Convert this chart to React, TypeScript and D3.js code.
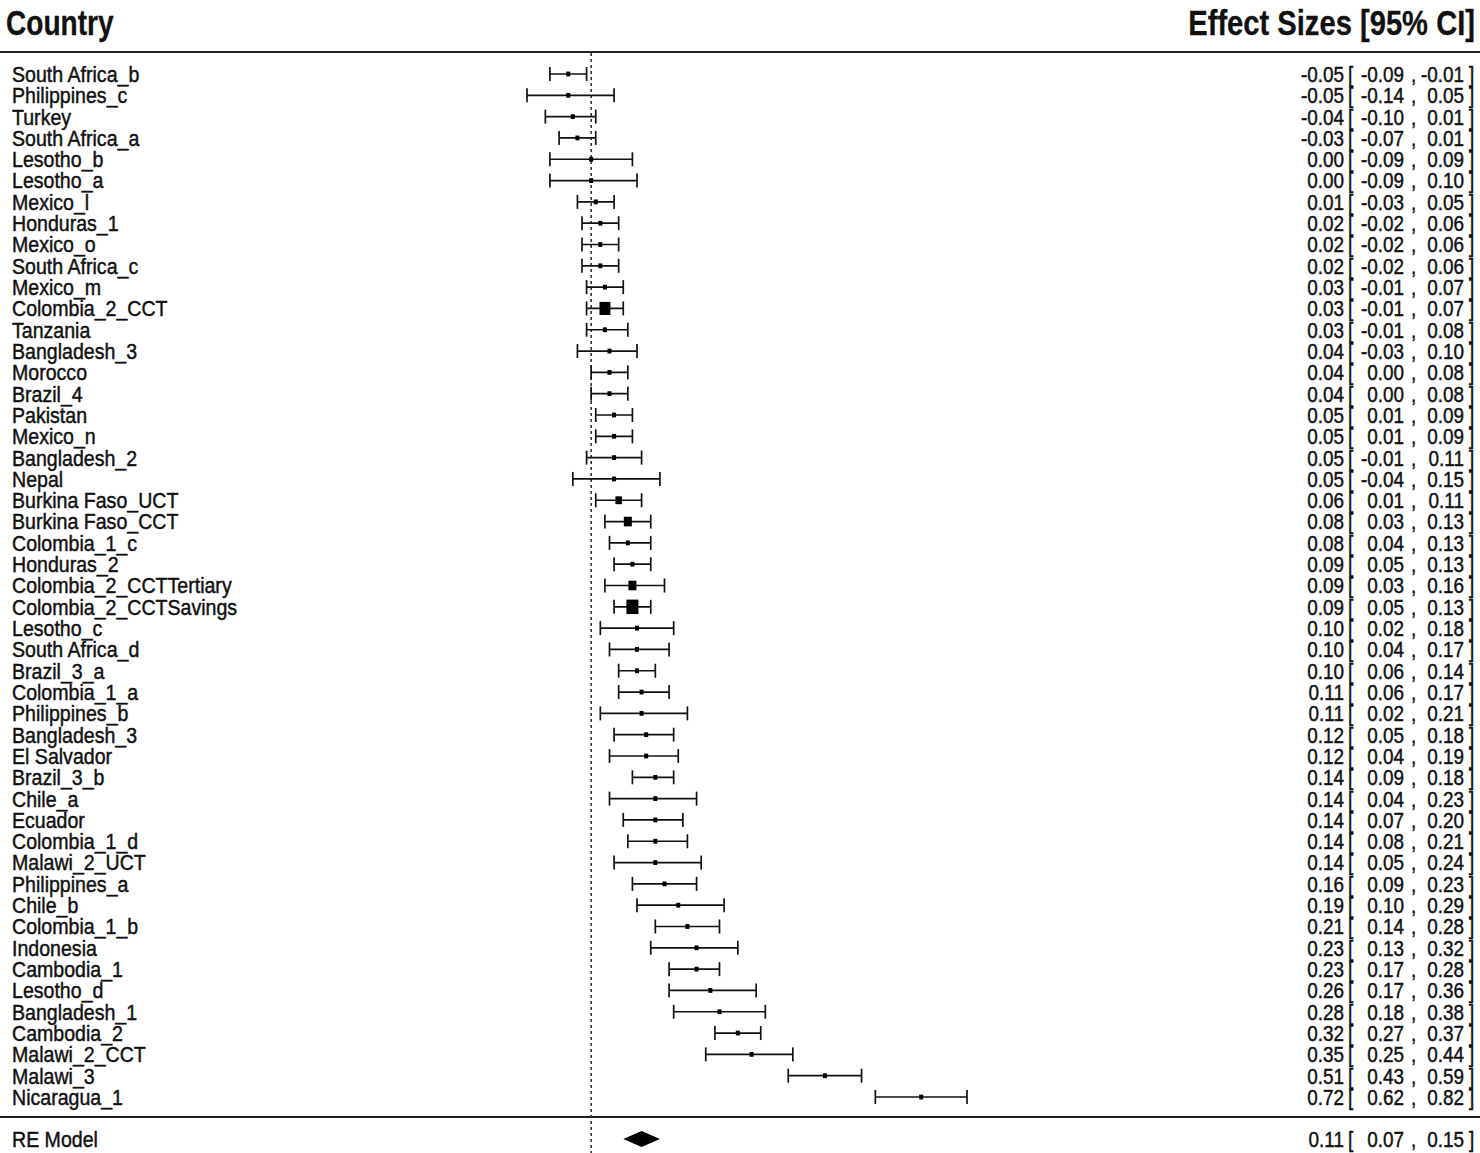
import React from "react";
import * as d3 from "d3";

const studies = [
  "South Africa_b","Philippines_c","Turkey","South Africa_a","Lesotho_b","Lesotho_a","Mexico_l","Honduras_1","Mexico_o","South Africa_c",
  "Mexico_m","Colombia_2_CCT","Tanzania","Bangladesh_3","Morocco","Brazil_4","Pakistan","Mexico_n","Bangladesh_2","Nepal",
  "Burkina Faso_UCT","Burkina Faso_CCT","Colombia_1_c","Honduras_2","Colombia_2_CCTTertiary","Colombia_2_CCTSavings","Lesotho_c","South Africa_d","Brazil_3_a","Colombia_1_a",
  "Philippines_b","Bangladesh_3","El Salvador","Brazil_3_b","Chile_a","Ecuador","Colombia_1_d","Malawi_2_UCT","Philippines_a","Chile_b",
  "Colombia_1_b","Indonesia","Cambodia_1","Lesotho_d","Bangladesh_1","Cambodia_2","Malawi_2_CCT","Malawi_3","Nicaragua_1",
];
const estimates = [
  -0.05,-0.05,-0.04,-0.03,0.00,0.00,0.01,0.02,0.02,0.02,
  0.03,0.03,0.03,0.04,0.04,0.04,0.05,0.05,0.05,0.05,
  0.06,0.08,0.08,0.09,0.09,0.09,0.10,0.10,0.10,0.11,
  0.11,0.12,0.12,0.14,0.14,0.14,0.14,0.14,0.16,0.19,
  0.21,0.23,0.23,0.26,0.28,0.32,0.35,0.51,0.72,
];
const lower = [
  -0.09,-0.14,-0.10,-0.07,-0.09,-0.09,-0.03,-0.02,-0.02,-0.02,
  -0.01,-0.01,-0.01,-0.03,0.00,0.00,0.01,0.01,-0.01,-0.04,
  0.01,0.03,0.04,0.05,0.03,0.05,0.02,0.04,0.06,0.06,
  0.02,0.05,0.04,0.09,0.04,0.07,0.08,0.05,0.09,0.10,
  0.14,0.13,0.17,0.17,0.18,0.27,0.25,0.43,0.62,
];
const upper = [
  -0.01,0.05,0.01,0.01,0.09,0.10,0.05,0.06,0.06,0.06,
  0.07,0.07,0.08,0.10,0.08,0.08,0.09,0.09,0.11,0.15,
  0.11,0.13,0.13,0.13,0.16,0.13,0.18,0.17,0.14,0.17,
  0.21,0.18,0.19,0.18,0.23,0.20,0.21,0.24,0.23,0.29,
  0.28,0.32,0.28,0.36,0.38,0.37,0.44,0.59,0.82,
];
// relative study weights (%)
const weights = [
  1.8,1.2,1.6,2.0,1.2,1.2,2.0,1.8,1.8,1.8,
  1.8,6.0,1.8,1.2,1.8,1.8,1.8,1.8,1.4,1.2,
  3.6,4.4,1.8,1.8,4.4,6.6,1.2,1.4,2.0,1.8,
  1.2,1.4,1.4,2.0,1.2,1.6,1.6,1.4,1.6,1.2,
  1.6,1.4,2.0,1.2,1.2,2.0,1.8,1.4,1.2,
];
const reModel = { label: "RE Model", est: 0.11, lo: 0.07, hi: 0.15 };
const headerLeft = "Country";
const headerRight = "Effect Sizes [95% CI]";

const W = 1480, H = 1153;
const FONT = "'Liberation Sans Narrow', 'Arial Narrow', 'Liberation Sans', Arial, sans-serif";

const fmt = (v: number) => d3.format(".2f")(v).replace("−", "-");

type TProps = { x: number; y: number; sx: number; size: number; anchor?: string; bold?: boolean; children: React.ReactNode };
function T({ x, y, sx, size, anchor = "start", bold = false, children }: TProps) {
  return (
    <text
      transform={`translate(${x},${y}) scale(${sx},1)`}
      dy="0.36em"
      textAnchor={anchor}
      fontFamily={FONT}
      fontSize={size}
      fontWeight={bold ? "bold" : "normal"}
      fill="#111"
      stroke="#111"
      strokeWidth={bold ? 0.3 : 0.45}
    >
      {children}
    </text>
  );
}

export default function App() {
  const x = d3.scaleLinear().domain([-0.14, 0.82]).range([527, 967]);
  const y = d3.scalePoint<number>().domain(d3.range(studies.length)).range([74, 1097]);
  const size = d3.scaleLinear().domain([0, 6.6]).range([0, 12]);
  const zeroX = x(0);
  const cap = 7;
  const reY = 1139;
  const NS = 22;
  const NX = 0.86;

  const rightCols = (est: number, lo: number, hi: number, yy: number, key: string) => (
    <g key={key}>
      <T x={1344} y={yy} sx={NX} size={NS} anchor="end">{fmt(est)}</T>
      <T x={1348} y={yy} sx={NX} size={NS}>[</T>
      <T x={1404} y={yy} sx={NX} size={NS} anchor="end">{fmt(lo)}</T>
      <T x={1411} y={yy} sx={NX} size={NS}>,</T>
      <T x={1464} y={yy} sx={NX} size={NS} anchor="end">{fmt(hi)}</T>
      <T x={1469} y={yy} sx={NX} size={NS}>]</T>
    </g>
  );

  return (
    <svg width={W} height={H} style={{ position: "absolute", left: 0, top: 0, background: "#fff" }}>
      <rect x={0} y={0} width={W} height={H} fill="#fff" />
      <T x={6} y={22} sx={0.78} size={36} bold>{headerLeft}</T>
      <T x={1475} y={22} sx={0.81} size={36} bold anchor="end">{headerRight}</T>
      <line x1={0} x2={W} y1={52} y2={52} stroke="#222" strokeWidth={2.2} />
      <line x1={0} x2={W} y1={1117} y2={1117} stroke="#222" strokeWidth={2.2} />
      <line x1={zeroX} x2={zeroX} y1={53} y2={H} stroke="#333" strokeWidth={1.6} strokeDasharray="3,3" />

      {studies.map((s, i) => {
        const yy = y(i)!;
        const side = Math.max(4, size(weights[i]));
        return (
          <g key={i}>
            <T x={12} y={yy} sx={0.89} size={22}>{s}</T>
            <line x1={x(lower[i])} x2={x(upper[i])} y1={yy} y2={yy} stroke="#111" strokeWidth={1.7} />
            <line x1={x(lower[i])} x2={x(lower[i])} y1={yy - cap} y2={yy + cap} stroke="#111" strokeWidth={1.7} />
            <line x1={x(upper[i])} x2={x(upper[i])} y1={yy - cap} y2={yy + cap} stroke="#111" strokeWidth={1.7} />
            <rect x={x(estimates[i]) - side / 2} y={yy - side * 0.6} width={side} height={side * 1.2} fill="#000" />
            {rightCols(estimates[i], lower[i], upper[i], yy, "r" + i)}
          </g>
        );
      })}

      <T x={12} y={reY} sx={0.89} size={22}>{reModel.label}</T>
      <path
        d={`M${x(reModel.lo)},${reY} L${x(reModel.est)},${reY - 8} L${x(reModel.hi)},${reY} L${x(reModel.est)},${reY + 8} Z`}
        fill="#000"
      />
      {rightCols(reModel.est, reModel.lo, reModel.hi, reY, "re")}
    </svg>
  );
}
